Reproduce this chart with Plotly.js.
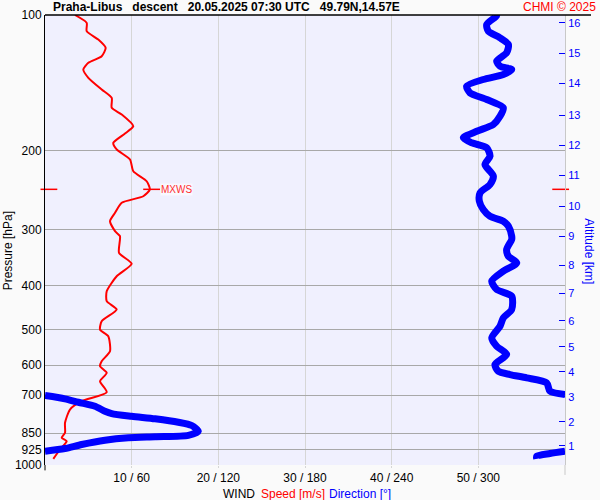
<!DOCTYPE html>
<html><head><meta charset="utf-8">
<script src="https://cdn.plot.ly/plotly-3.0.1.min.js"></script>
<style>body{margin:0;background:#fafafa}</style>
</head><body><div id="chart" style="width:600px;height:500px"></div>
<script>
// Axis ticks
const pressureTicks = [100, 200, 300, 400, 500, 600, 700, 850, 925, 1000];
const windTicks = [10, 20, 30, 40, 50];
const windTickText = ['10 / 60', '20 / 120', '30 / 180', '40 / 240', '50 / 300'];
const altitudeKm = ['1','2','3','4','5','6','7','8','9','10','11','12','13','14','15','16'];
const altitudePressure = [907, 802, 706, 621, 546, 478, 416, 360, 310, 266, 227, 195, 167, 142, 121.5, 104];

// Wind speed profile [m/s] vs pressure [hPa]
const speedPressure = [100, 104.1, 108.6, 113.4, 118.3, 123.5, 127.7, 132.2, 137.9, 146.4, 152.8, 160.8, 166.4, 176.6, 183.4, 192.3, 199.0, 209.5, 222.4, 234.1, 244.3, 252.8, 261.4, 275.2, 287.2, 302.3, 310.1, 337.6, 357.3, 380.6, 411.1, 432.5, 451.3, 479.1, 500, 517.4, 558.6, 588, 603.3, 624, 651.4, 689.1, 721.6, 752.9, 805.8, 848, 870, 885.3, 923.8, 968.8];
const speed = [3.46, 4.81, 4.81, 6.15, 7.0, 6.54, 5.0, 4.42, 5.0, 6.54, 7.7, 7.7, 8.85, 10.19, 9.23, 7.88, 8.27, 9.81, 10.19, 11.73, 12.1, 11.34, 8.85, 8.08, 7.5, 8.08, 8.65, 8.54, 10.0, 8.27, 7.12, 7.12, 8.27, 6.54, 6.35, 7.3, 7.5, 6.54, 6.35, 7.12, 6.35, 7.12, 4.23, 2.88, 2.31, 2.31, 1.93, 2.5, 1.73, 0.96];

// Wind direction profile [deg] vs pressure [hPa]
const dirPressure = [100, 100.3, 105.0, 108.6, 112.4, 116.3, 121.3, 126.6, 129.9, 132.2, 135.6, 139.1, 143.9, 148.9, 154.1, 160.8, 167.9, 175.1, 181.3, 187.5, 192.3, 197.3, 206.0, 214.9, 228.1, 238.0, 248.4, 259.3, 270.6, 280.1, 287.2, 294.7, 310.1, 315.4, 331.9, 343.6, 355.4, 370.9, 390.4, 407.4, 421.6, 451.3, 470.9, 491.6, 521.7, 544.5, 568.0, 598.1, 618.9, 629.5, 640.2, 656.8, 685.5, 697.2,
  700.8, 712.7, 725.4, 740.3, 759.5, 768.6, 779.3, 789.6, 803.4, 817.1, 841.4, 859.6, 865.5, 870, 880.8, 900.4, 919, 931.9,
  931.9, 942.8, 956, 968.8];
const direction = [310.4, 312.7, 305.8, 306.9, 315.0, 320.8, 319.6, 312.7, 315.0, 323.1, 317.3, 303.4, 291.9, 294.2, 305.8, 317.3, 315.0, 310.4, 298.9, 289.6, 295.4, 305.8, 308.1, 304.6, 310.4, 308.1, 301.2, 300.7, 303.4, 308.1, 317.3, 320.8, 323.1, 323.1, 319.6, 320.8, 326.6, 317.3, 309.3, 312.7, 323.1, 323.1, 317.3, 315.0, 309.3, 312.7, 319.6, 311.5, 313.8, 321.9, 333.5, 347.3, 349.6, 360,
  0, 13.8, 23.1, 34.6, 41.5, 46.2, 60.0, 76.2, 92.3, 101.6, 106.1, 99.2, 76.2, 57.7, 41.5, 25.4, 13.8, 0,
  360, 349.6, 340.4, 340.4];

// Maximum wind (MXWS)
const maxWindSpeed = 12.1;
const maxWindPressure = 244;

// Break direction line where it wraps around 0/360
const dirX = [], dirY = [];
for (let i = 0; i < direction.length; i++) {
  if (i > 0 && Math.abs(direction[i] - direction[i - 1]) > 180) { dirX.push(null); dirY.push(null); }
  dirX.push(direction[i]); dirY.push(dirPressure[i]);
}

const FONT = 'Arial, "Liberation Sans", sans-serif';
const speedRange = [0, 60];
const pRange = [3, 2]; // log10, reversed (1000 at bottom)

const traces = [
  { x: dirX, y: dirY, xaxis: 'x2', yaxis: 'y', type: 'scatter', mode: 'lines',
    line: { color: '#0000ff', width: 7, shape: 'spline', smoothing: 0.7 }, connectgaps: false, hoverinfo: 'skip' },
  { x: speed, y: speedPressure, xaxis: 'x', yaxis: 'y', type: 'scatter', mode: 'lines',
    line: { color: '#ff0000', width: 2, shape: 'spline', smoothing: 0.6 }, hoverinfo: 'skip' },
  { x: [speedRange[0] + 0.45, maxWindSpeed + 0.2, speedRange[1] - 0.5], y: [maxWindPressure, maxWindPressure, maxWindPressure],
    xaxis: 'x', yaxis: 'y', type: 'scatter', mode: 'markers', cliponaxis: false,
    marker: { symbol: 'line-ew-open', size: 12, color: '#ff0000', line: { color: '#ff0000', width: 1.5 } }, hoverinfo: 'skip' },
  { x: [speedRange[1]], y: [altitudePressure[0]], xaxis: 'x', yaxis: 'y2', type: 'scatter', mode: 'markers',
    marker: { opacity: 0 }, hoverinfo: 'skip' }
];

const layout = {
  width: 600, height: 500,
  margin: { l: 45, r: 35, t: 15, b: 35 },
  paper_bgcolor: '#fafafa', plot_bgcolor: '#f0f0fe',
  showlegend: false,
  font: { family: FONT, size: 12, color: '#000' },
  xaxis: {
    range: speedRange, tickvals: windTicks, ticktext: windTickText,
    showgrid: true, gridcolor: '#d6d6d6', gridwidth: 1, zeroline: false,
    ticks: 'outside', ticklen: 2, tickcolor: '#d6d6d6', showline: false,
    tickfont: { size: 12, color: '#000' }
  },
  xaxis2: { range: [0, 360], overlaying: 'x', visible: false },
  yaxis: {
    type: 'log', range: pRange, autorange: false,
    tickvals: pressureTicks, ticktext: pressureTicks.map(String),
    showgrid: true, gridcolor: '#a8a8a8', gridwidth: 1, zeroline: false,
    showline: true, linecolor: '#000', linewidth: 1, ticks: '', ticklen: 0,
    tickfont: { size: 12, color: '#000' }
  },
  yaxis2: {
    type: 'log', range: pRange, autorange: false, overlaying: 'y', side: 'right',
    tickvals: altitudePressure, ticktext: altitudeKm,
    showgrid: false, zeroline: false, showline: true, linecolor: '#c8c8c8', linewidth: 1,
    ticks: 'inside', ticklen: 6, tickcolor: '#0000ff', tickwidth: 1,
    tickfont: { size: 11, color: '#0000ff' }
  },
  shapes: [
    { type: 'line', xref: 'paper', yref: 'paper', x0: 0, x1: 1.05, y0: 1, y1: 1, line: { color: '#000', width: 1.5 } },
    { type: 'line', xref: 'paper', yref: 'paper', x0: 0, x1: 0, y0: 0, y1: -0.012, line: { color: '#000', width: 1 } },
    { type: 'line', xref: 'paper', yref: 'paper', x0: 1, x1: 1, y0: 0, y1: -0.022, line: { color: '#c8c8c8', width: 1 } }
  ],
  annotations: [
    { xref: 'paper', yref: 'paper', x: 0.0115, y: 1.018, xanchor: 'left', yanchor: 'middle', showarrow: false,
      text: '<b>Praha-Libus\u00a0\u00a0 descent\u00a0\u00a0 20.05.2025 07:30 UTC\u00a0\u00a0 49.79N,14.57E</b>', font: { size: 12, color: '#000' } },
    { xref: 'paper', yref: 'paper', x: 1.063, y: 1.018, xanchor: 'right', yanchor: 'middle', showarrow: false,
      text: 'CHMI © 2025', font: { size: 12, color: '#ff0000' } },
    { xref: 'paper', yref: 'paper', x: -0.071, y: 0.475, xanchor: 'center', yanchor: 'middle', showarrow: false, textangle: -90,
      text: 'Pressure [hPa]', font: { size: 12, color: '#000' } },
    { xref: 'paper', yref: 'paper', x: 1.046, y: 0.475, xanchor: 'center', yanchor: 'middle', showarrow: false, textangle: 90,
      text: 'Altitude [km]', font: { size: 12, color: '#0000ff' } },
    { xref: 'paper', yref: 'paper', x: 0.373, y: -0.065, xanchor: 'center', yanchor: 'middle', showarrow: false,
      text: 'WIND', font: { size: 12, color: '#000' }, borderpad: 0 },
    { xref: 'paper', yref: 'paper', x: 0.477, y: -0.065, xanchor: 'center', yanchor: 'middle', showarrow: false,
      text: 'Speed [m/s]', font: { size: 12, color: '#ff0000' }, borderpad: 0 },
    { xref: 'paper', yref: 'paper', x: 0.606, y: -0.065, xanchor: 'center', yanchor: 'middle', showarrow: false,
      text: 'Direction [°]', font: { size: 12, color: '#0000ff' }, borderpad: 0 },
    { xref: 'x', yref: 'y', x: maxWindSpeed, y: Math.log10(maxWindPressure), xanchor: 'left', yanchor: 'middle', showarrow: false,
      xshift: 10, text: 'MXWS', font: { size: 10, color: '#ff3030' }, bgcolor: 'rgba(255,255,255,0.6)', borderpad: 0 }
  ]
};

Plotly.newPlot('chart', traces, layout, { staticPlot: true, displayModeBar: false });
</script></body></html>
